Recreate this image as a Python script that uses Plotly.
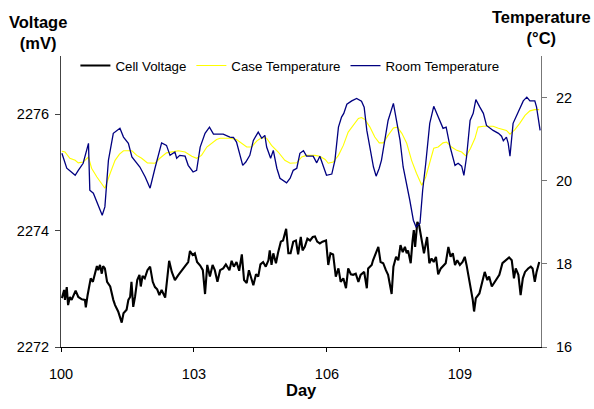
import plotly.graph_objects as go

# Cell voltage (mV) against day
volt_day = [100.02, 100.07, 100.09, 100.13, 100.16, 100.20, 100.24, 100.28, 100.33, 100.39,
            100.47, 100.54, 100.56, 100.60, 100.67, 100.72, 100.77, 100.81, 100.84, 100.88,
            100.92, 100.95, 100.99, 101.04, 101.11, 101.14, 101.18, 101.22, 101.29, 101.37,
            101.41, 101.48, 101.52, 101.56, 101.59, 101.63, 101.67, 101.72, 101.77, 101.80,
            101.84, 101.89, 101.95, 102.01, 102.07, 102.12, 102.17, 102.22, 102.27, 102.35,
            102.40, 102.44, 102.50, 102.57, 102.65, 102.72, 102.80, 102.87, 102.91, 102.97,
            103.02, 103.07, 103.14, 103.20, 103.25, 103.30, 103.36, 103.42, 103.47, 103.53,
            103.59, 103.66, 103.72, 103.80, 103.85, 103.90, 103.96, 104.02, 104.08, 104.13,
            104.19, 104.24, 104.30, 104.34, 104.40, 104.45, 104.50, 104.56, 104.62, 104.68,
            104.71, 104.75, 104.79, 104.85, 104.90, 104.96, 105.01, 105.08, 105.13, 105.18,
            105.24, 105.30, 105.35, 105.41, 105.45, 105.50, 105.56, 105.62, 105.68, 105.73,
            105.78, 105.84, 105.90, 105.98, 106.03, 106.08, 106.14, 106.20, 106.26, 106.31,
            106.37, 106.43, 106.48, 106.54, 106.59, 106.65, 106.71, 106.76, 106.84, 106.90,
            106.93, 107.01, 107.04, 107.11, 107.16, 107.21, 107.27, 107.33, 107.38, 107.46,
            107.50, 107.56, 107.61, 107.66, 107.71, 107.76, 107.80, 107.83, 107.89, 107.93,
            107.96, 107.99, 108.04, 108.08, 108.14, 108.19, 108.26, 108.31, 108.36, 108.41,
            108.46, 108.51, 108.57, 108.64, 108.68, 108.74, 108.79, 108.84, 108.89, 108.94,
            109.00, 109.06, 109.11, 109.15, 109.23, 109.29, 109.32, 109.36, 109.44, 109.51,
            109.56, 109.62, 109.66, 109.72, 109.79, 109.89, 109.96, 110.04, 110.11, 110.17,
            110.22, 110.26, 110.32, 110.37, 110.42, 110.47, 110.54, 110.60, 110.64, 110.69,
            110.73, 110.79]
volt_mv = [2272.84, 2272.98, 2272.81, 2273.03, 2272.72, 2272.86, 2272.81, 2272.89, 2272.97, 2272.86,
           2272.82, 2272.81, 2272.68, 2272.89, 2273.18, 2273.12, 2273.29, 2273.39, 2273.32, 2273.41,
           2273.26, 2273.39, 2273.35, 2273.12, 2273.04, 2272.92, 2272.81, 2272.72, 2272.61, 2272.42,
           2272.58, 2272.64, 2272.81, 2272.86, 2273.12, 2272.69, 2272.86, 2273.15, 2273.24, 2273.04,
           2273.22, 2273.18, 2273.32, 2273.38, 2273.12, 2273.03, 2272.99, 2272.89, 2272.98, 2272.85,
           2273.21, 2273.48, 2273.29, 2273.15, 2273.24, 2273.32, 2273.39, 2273.46, 2273.65, 2273.58,
           2273.61, 2273.46, 2273.40, 2273.32, 2272.91, 2273.41, 2273.21, 2273.41, 2273.32, 2273.12,
           2273.32, 2273.35, 2273.42, 2273.32, 2273.48, 2273.38, 2273.46, 2273.31, 2273.59, 2273.15,
           2273.10, 2273.32, 2273.15, 2273.06, 2273.25, 2273.21, 2273.42, 2273.46, 2273.38, 2273.49,
           2273.66, 2273.41, 2273.61, 2273.44, 2273.63, 2273.81, 2273.83, 2274.03, 2273.61, 2273.61,
           2273.81, 2273.83, 2273.59, 2273.89, 2273.66, 2273.72, 2273.86, 2273.83, 2273.89, 2273.90,
           2273.81, 2273.78, 2273.81, 2273.83, 2273.41, 2273.61, 2273.59, 2273.21, 2273.35, 2273.12,
           2273.18, 2273.01, 2273.35, 2273.25, 2273.24, 2273.26, 2273.12, 2273.24, 2273.29, 2273.01,
           2273.35, 2273.41, 2273.49, 2273.61, 2273.72, 2273.46, 2273.44, 2273.32, 2273.24, 2272.91,
           2273.38, 2273.55, 2273.49, 2273.75, 2273.63, 2273.72, 2273.61, 2273.66, 2273.44, 2273.81,
           2274.01, 2273.72, 2274.15, 2274.09, 2273.83, 2273.61, 2273.89, 2273.44, 2273.52, 2273.46,
           2273.55, 2273.25, 2273.35, 2273.41, 2273.44, 2273.72, 2273.55, 2273.61, 2273.41, 2273.49,
           2273.41, 2273.46, 2273.55, 2273.41, 2273.09, 2272.81, 2272.61, 2272.84, 2272.92, 2273.15,
           2273.29, 2273.15, 2273.21, 2273.04, 2273.12, 2273.24, 2273.44, 2273.49, 2273.54, 2273.49,
           2273.18, 2273.35, 2273.24, 2272.89, 2273.18, 2273.29, 2273.35, 2273.38, 2273.35, 2273.12,
           2273.29, 2273.46]

# Case temperature (deg C) against day
case_day = [100.02, 100.09, 100.20, 100.32, 100.39, 100.50, 100.62, 100.69, 100.81, 100.92,
            100.99, 101.11, 101.22, 101.32, 101.41, 101.60, 101.71, 101.82, 101.95, 102.12,
            102.23, 102.38, 102.50, 102.65, 102.80, 102.95, 103.06, 103.17, 103.29, 103.40,
            103.51, 103.59, 103.81, 103.96, 104.08, 104.19, 104.30, 104.42, 104.53, 104.64,
            104.75, 104.90, 105.05, 105.17, 105.32, 105.43, 105.54, 105.73, 105.84, 105.96,
            106.03, 106.14, 106.26, 106.37, 106.48, 106.59, 106.71, 106.78, 106.86, 106.97,
            107.08, 107.18, 107.27, 107.38, 107.50, 107.59, 107.69, 107.80, 107.91, 108.02,
            108.14, 108.23, 108.32, 108.41, 108.51, 108.62, 108.70, 108.81, 108.93, 109.04,
            109.14, 109.24, 109.34, 109.41, 109.53, 109.75, 109.87, 110.05, 110.13, 110.24,
            110.35, 110.47, 110.58, 110.69, 110.79]
case_temp = [20.71, 20.69, 20.54, 20.49, 20.43, 20.45, 20.57, 20.30, 20.09, 19.94,
             19.82, 20.18, 20.49, 20.64, 20.72, 20.72, 20.61, 20.54, 20.43, 20.42,
             20.54, 20.67, 20.69, 20.72, 20.69, 20.59, 20.54, 20.61, 20.81, 20.90,
             20.99, 21.02, 21.02, 20.99, 20.90, 20.81, 20.81, 20.96, 21.04, 21.02,
             20.85, 20.69, 20.49, 20.42, 20.43, 20.57, 20.61, 20.61, 20.59, 20.51,
             20.42, 20.45, 20.61, 20.85, 21.17, 21.33, 21.50, 21.52, 21.47, 21.29,
             21.05, 20.91, 20.91, 21.09, 21.27, 21.29, 21.14, 20.90, 20.49, 20.18,
             19.89, 20.09, 20.42, 20.78, 20.81, 20.91, 20.93, 20.81, 20.73, 20.69,
             20.59, 20.78, 21.02, 21.29, 21.31, 21.31, 21.26, 21.21, 21.12, 21.23,
             21.38, 21.57, 21.68, 21.71, 21.71]

# Room temperature (deg C) against day
room_day = [100.02, 100.13, 100.20, 100.32, 100.39, 100.50, 100.62, 100.65, 100.73, 100.84,
            100.93, 100.99, 101.07, 101.18, 101.33, 101.41, 101.52, 101.60, 101.78, 101.90,
            102.01, 102.12, 102.20, 102.27, 102.38, 102.46, 102.57, 102.61, 102.68, 102.80,
            102.87, 102.98, 103.06, 103.14, 103.25, 103.35, 103.44, 103.66, 103.81, 103.89,
            103.96, 104.04, 104.10, 104.17, 104.26, 104.34, 104.45, 104.53, 104.60, 104.64,
            104.73, 104.79, 104.87, 104.94, 105.09, 105.17, 105.24, 105.32, 105.39, 105.47,
            105.54, 105.69, 105.77, 105.84, 105.93, 105.99, 106.11, 106.18, 106.26, 106.33,
            106.38, 106.45, 106.56, 106.67, 106.78, 106.84, 106.90, 106.97, 107.05, 107.11,
            107.18, 107.23, 107.31, 107.38, 107.50, 107.57, 107.65, 107.72, 107.80, 107.87,
            107.95, 108.01, 108.10, 108.16, 108.23, 108.32, 108.41, 108.48, 108.55, 108.62,
            108.69, 108.71, 108.78, 108.89, 108.96, 109.04, 109.09, 109.15, 109.23, 109.30,
            109.36, 109.45, 109.53, 109.60, 109.75, 109.87, 109.94, 109.98, 110.05, 110.09,
            110.13, 110.20, 110.32, 110.43, 110.51, 110.58, 110.69, 110.73, 110.81]
room_temp = [20.66, 20.30, 20.24, 20.13, 20.25, 20.42, 20.90, 19.77, 19.70, 19.41,
             19.17, 19.37, 20.49, 21.14, 21.26, 21.05, 20.90, 20.57, 20.33, 20.09,
             19.82, 20.30, 20.66, 20.91, 20.85, 20.61, 20.69, 20.54, 20.61, 20.59,
             20.37, 20.21, 20.25, 20.81, 21.14, 21.29, 21.12, 21.12, 21.05, 21.04,
             20.93, 20.61, 20.37, 20.45, 20.61, 20.97, 21.17, 21.02, 21.09, 20.81,
             20.54, 20.73, 20.30, 20.06, 19.95, 20.06, 20.25, 20.30, 20.66, 20.72,
             20.59, 20.59, 20.43, 20.59, 20.33, 20.13, 20.16, 20.49, 21.29, 21.53,
             21.62, 21.84, 21.92, 21.98, 21.91, 21.77, 21.21, 20.81, 20.33, 20.11,
             20.30, 20.49, 21.05, 21.45, 21.86, 21.45, 20.97, 20.33, 19.94, 19.53,
             19.05, 18.89, 18.98, 19.77, 20.42, 21.38, 21.79, 21.62, 21.45, 21.26,
             21.29, 21.17, 20.81, 20.37, 20.42, 20.35, 20.13, 20.57, 21.45, 21.62,
             21.95, 21.77, 21.62, 21.33, 21.21, 21.14, 21.07, 20.96, 21.05, 20.90,
             20.59, 21.38, 21.65, 21.92, 22.01, 21.92, 21.92, 21.77, 21.21]

day_ticks = [100, 103, 106, 109]
volt_ticks = [2272, 2274, 2276]
temp_ticks = [16, 18, 20, 22]
day_range = [100, 110.83]
volt_range = [2272, 2277]
temp_range = [16, 23]

FONT = "Liberation Sans, Arial, sans-serif"

fig = go.Figure()
fig.add_trace(go.Scatter(x=volt_day, y=volt_mv, mode="lines", name="Cell Voltage",
                         line=dict(color="#000000", width=2.1), yaxis="y"))
fig.add_trace(go.Scatter(x=case_day, y=case_temp, mode="lines", name="Case Temperature",
                         line=dict(color="#FFFF00", width=1.1), yaxis="y2"))
fig.add_trace(go.Scatter(x=room_day, y=room_temp, mode="lines", name="Room Temperature",
                         line=dict(color="#000080", width=1.3), yaxis="y2"))

tick_font = dict(family=FONT, size=14.5, color="#000000")

fig.update_layout(
    width=594, height=409,
    margin=dict(l=61, r=53, t=56, b=62),
    paper_bgcolor="white", plot_bgcolor="white",
    font=dict(family=FONT, color="#000000"),
    showlegend=True,
    legend=dict(orientation="h", x=0.03, xanchor="left", y=0.966, yanchor="middle",
                font=dict(family=FONT, size=13.3, color="#000000"),
                bgcolor="rgba(0,0,0,0)", traceorder="normal"),
    xaxis=dict(range=day_range, tickmode="array", tickvals=day_ticks,
               showgrid=False, zeroline=False, showline=True, linecolor="#000000",
               linewidth=1, ticks="outside", ticklen=4, tickcolor="#000000",
               tickfont=tick_font, ticklabelstandoff=10),
    xaxis2=dict(range=day_range, overlaying="x", anchor="y", tickmode="array",
                tickvals=day_ticks, showgrid=False, zeroline=False, showline=False,
                ticks="inside", ticklen=4, tickcolor="#000000", showticklabels=False),
    yaxis=dict(range=volt_range, tickmode="array", tickvals=volt_ticks,
               showgrid=False, zeroline=False, showline=True, linecolor="#444444",
               linewidth=1, ticks="outside", ticklen=5, tickcolor="#444444",
               tickfont=tick_font, ticklabelstandoff=3),
    yaxis2=dict(range=temp_range, overlaying="y", side="right", anchor="x",
                tickmode="array", tickvals=temp_ticks, showgrid=False, zeroline=False,
                showline=True, linecolor="#777777", linewidth=1, ticks="outside",
                ticklen=5, tickcolor="#777777", tickfont=tick_font, ticklabelstandoff=6),
    yaxis3=dict(range=volt_range, overlaying="y", side="left", anchor="x",
                tickmode="array", tickvals=volt_ticks, showgrid=False, zeroline=False,
                showline=False, ticks="inside", ticklen=5, tickcolor="#444444",
                showticklabels=False),
    yaxis4=dict(range=temp_range, overlaying="y", side="right", anchor="x",
                tickmode="array", tickvals=temp_ticks, showgrid=False, zeroline=False,
                showline=False, ticks="inside", ticklen=5, tickcolor="#777777",
                showticklabels=False),
)

title_font = dict(family=FONT, size=16.5, color="#000000")
fig.add_annotation(text="<b>Voltage</b><br><b>(mV)</b>", xref="paper", yref="paper",
                   x=-0.047, y=1.082, xanchor="center", yanchor="middle",
                   showarrow=False, font=title_font, align="center")
fig.add_annotation(text="<b>Temperature</b><br><b>(°C)</b>", xref="paper", yref="paper",
                   x=1.0, y=1.098, xanchor="center", yanchor="middle",
                   showarrow=False, font=title_font, align="center")
fig.add_annotation(text="<b>Day</b>", xref="paper", yref="paper",
                   x=0.5, y=-0.148, xanchor="center", yanchor="middle",
                   showarrow=False, font=title_font)

fig.write_html("out.html")
